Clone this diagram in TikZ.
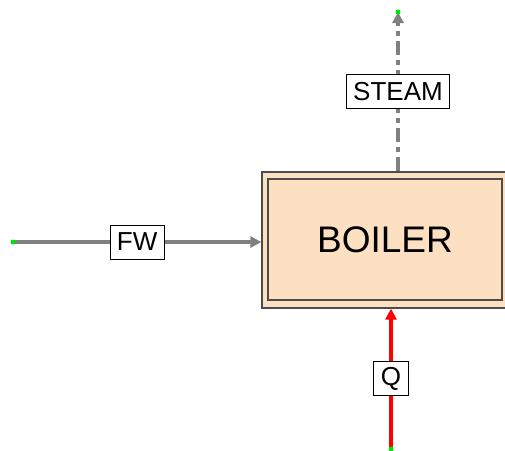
\documentclass[tikz,border=0pt]{standalone}
\usepackage{fontspec}
\setmainfont{Liberation Sans}
\usepackage{xcolor}
\usepackage{tikz}
\usetikzlibrary{arrows.meta}
\definecolor{boilerfill}{RGB}{253,223,194}
\definecolor{flowgray}{RGB}{128,128,128}
\definecolor{endgreen}{RGB}{0,230,0}

\begin{document}
\begin{tikzpicture}[x=1pt, y=-1pt,
  unit/.style={rectangle, draw=black!70, fill=boilerfill, line width=1.2pt,
               minimum width=250pt, minimum height=136pt, inner sep=0pt},
  inner/.style={rectangle, draw=black!70, line width=1.2pt,
                minimum width=234pt, minimum height=121pt, inner sep=0pt},
  flow/.style={flowgray, line width=4pt, -{Triangle[length=11pt,width=11pt]}},
  heat/.style={red, line width=4pt, -{Triangle[length=11pt,width=11pt]}},
  tag/.style={rectangle, draw=black, fill=white, line width=0.8pt, solid, text=black,
              font=\fontsize{26}{26}\selectfont, inner xsep=7pt, inner ysep=0pt,
              minimum height=34pt},
  endpt/.style={endgreen}]

\useasboundingbox (0,0) rectangle (505,450);

\node[unit] (boiler) at (387,240) {};
\node[inner] (boilerin) at (385,239.5) {};
\node[font=\fontsize{37}{37}\selectfont] (boilertxt) at (385,240) {BOILER};

\coordinate (fwin) at (13,242);
\coordinate (steamout) at (398,12);
\coordinate (qin) at (391,449);

\draw[flow] (fwin) -- (fwin -| boiler.west) node[tag, pos=0.5] (fw) {FW};
\draw[flow, dash pattern=on 14pt off 5pt on 5pt off 5pt]
  (steamout |- boiler.north) -- (steamout) node[tag, pos=0.5] (steam) {STEAM};
\draw[heat] (qin) -- (qin |- boiler.south) node[tag, pos=0.5] (q) {Q};

\fill[endpt] (fwin) circle (2.5);
\fill[endpt] (steamout) circle (2.5);
\fill[endpt] (qin) circle (2.5);

\end{tikzpicture}
\end{document}
